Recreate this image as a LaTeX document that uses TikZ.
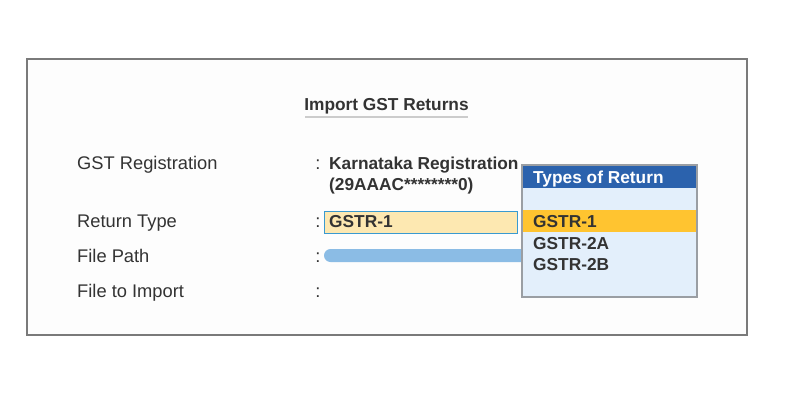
\documentclass[tikz,border=0pt]{standalone}
\usepackage{fontspec}
\setmainfont{Liberation Sans}
\definecolor{txt}{HTML}{333333}
\definecolor{framegray}{HTML}{7A7A7A}
\definecolor{popborder}{HTML}{9A9EA3}
\definecolor{popbody}{HTML}{E3EFFB}
\definecolor{poptitle}{HTML}{2B62AD}
\definecolor{hilite}{HTML}{FFC430}
\definecolor{fieldfill}{HTML}{FDE8B1}
\definecolor{fieldborder}{HTML}{3A9AD0}
\definecolor{barblue}{HTML}{8BBCE5}
\definecolor{rulegray}{HTML}{CCCCCC}
\tikzset{
  lbl/.style={anchor=base west, inner sep=0pt, text=txt, font=\fontsize{18.3}{20}\selectfont},
  val/.style={anchor=base west, inner sep=0pt, text=txt, font=\fontsize{17.3}{20}\selectfont\bfseries},
  colon/.style={anchor=base, inner sep=0pt, text=txt, font=\fontsize{18.3}{20}\selectfont},
}
\begin{document}
\begin{tikzpicture}[x=1pt,y=-1pt]
\useasboundingbox (0,0) rectangle (796,402);
\fill[white] (0,0) rectangle (796,402);
% outer frame
\draw[framegray, line width=1.2pt, fill={rgb,255:red,253;green,253;blue,253}] (27,59) rectangle (747,335);
% title
\node[val, anchor=base] (title) at (386.5,110) {Import GST Returns};
\draw[rulegray, line width=1.3pt] (305,117) -- (468,117);
% labels
\node[lbl] (l1) at (77,169) {GST Registration};
\node[lbl] (l2) at (77,227) {Return Type};
\node[lbl] (l3) at (77,262) {File Path};
\node[lbl] (l4) at (77,297) {File to Import};
% colons
\node[colon] (c1) at (318,169) {:};
\node[colon] (c2) at (318,227) {:};
\node[colon] (c3) at (318,262) {:};
\node[colon] (c4) at (318,297) {:};
% registration value
\node[val] (reg1) at (329,169) {Karnataka Registration};
\node[val] (reg2) at (329,190) {(29AAAC********0)};
% return type field
\draw[fieldborder, line width=1pt, fill=fieldfill] (324.5,211) rectangle (517,233);
\node[val] (rt) at (329,227) {GSTR-1};
% file path bar
\fill[barblue, rounded corners=6.5pt] (324,249) rectangle (560,262);
% popup
\draw[popborder, line width=1.5pt, fill=popbody] (522,165) rectangle (697,297);
\fill[poptitle] (523,166) rectangle (696,188);
\fill[hilite] (523,210) rectangle (696,232);
\node[val, text=white] (ptitle) at (533,183) {Types of Return};
\node[val] (o1) at (533,227) {GSTR-1};
\node[val] (o2) at (533,249) {GSTR-2A};
\node[val] (o3) at (533,270) {GSTR-2B};
\end{tikzpicture}
\end{document}
